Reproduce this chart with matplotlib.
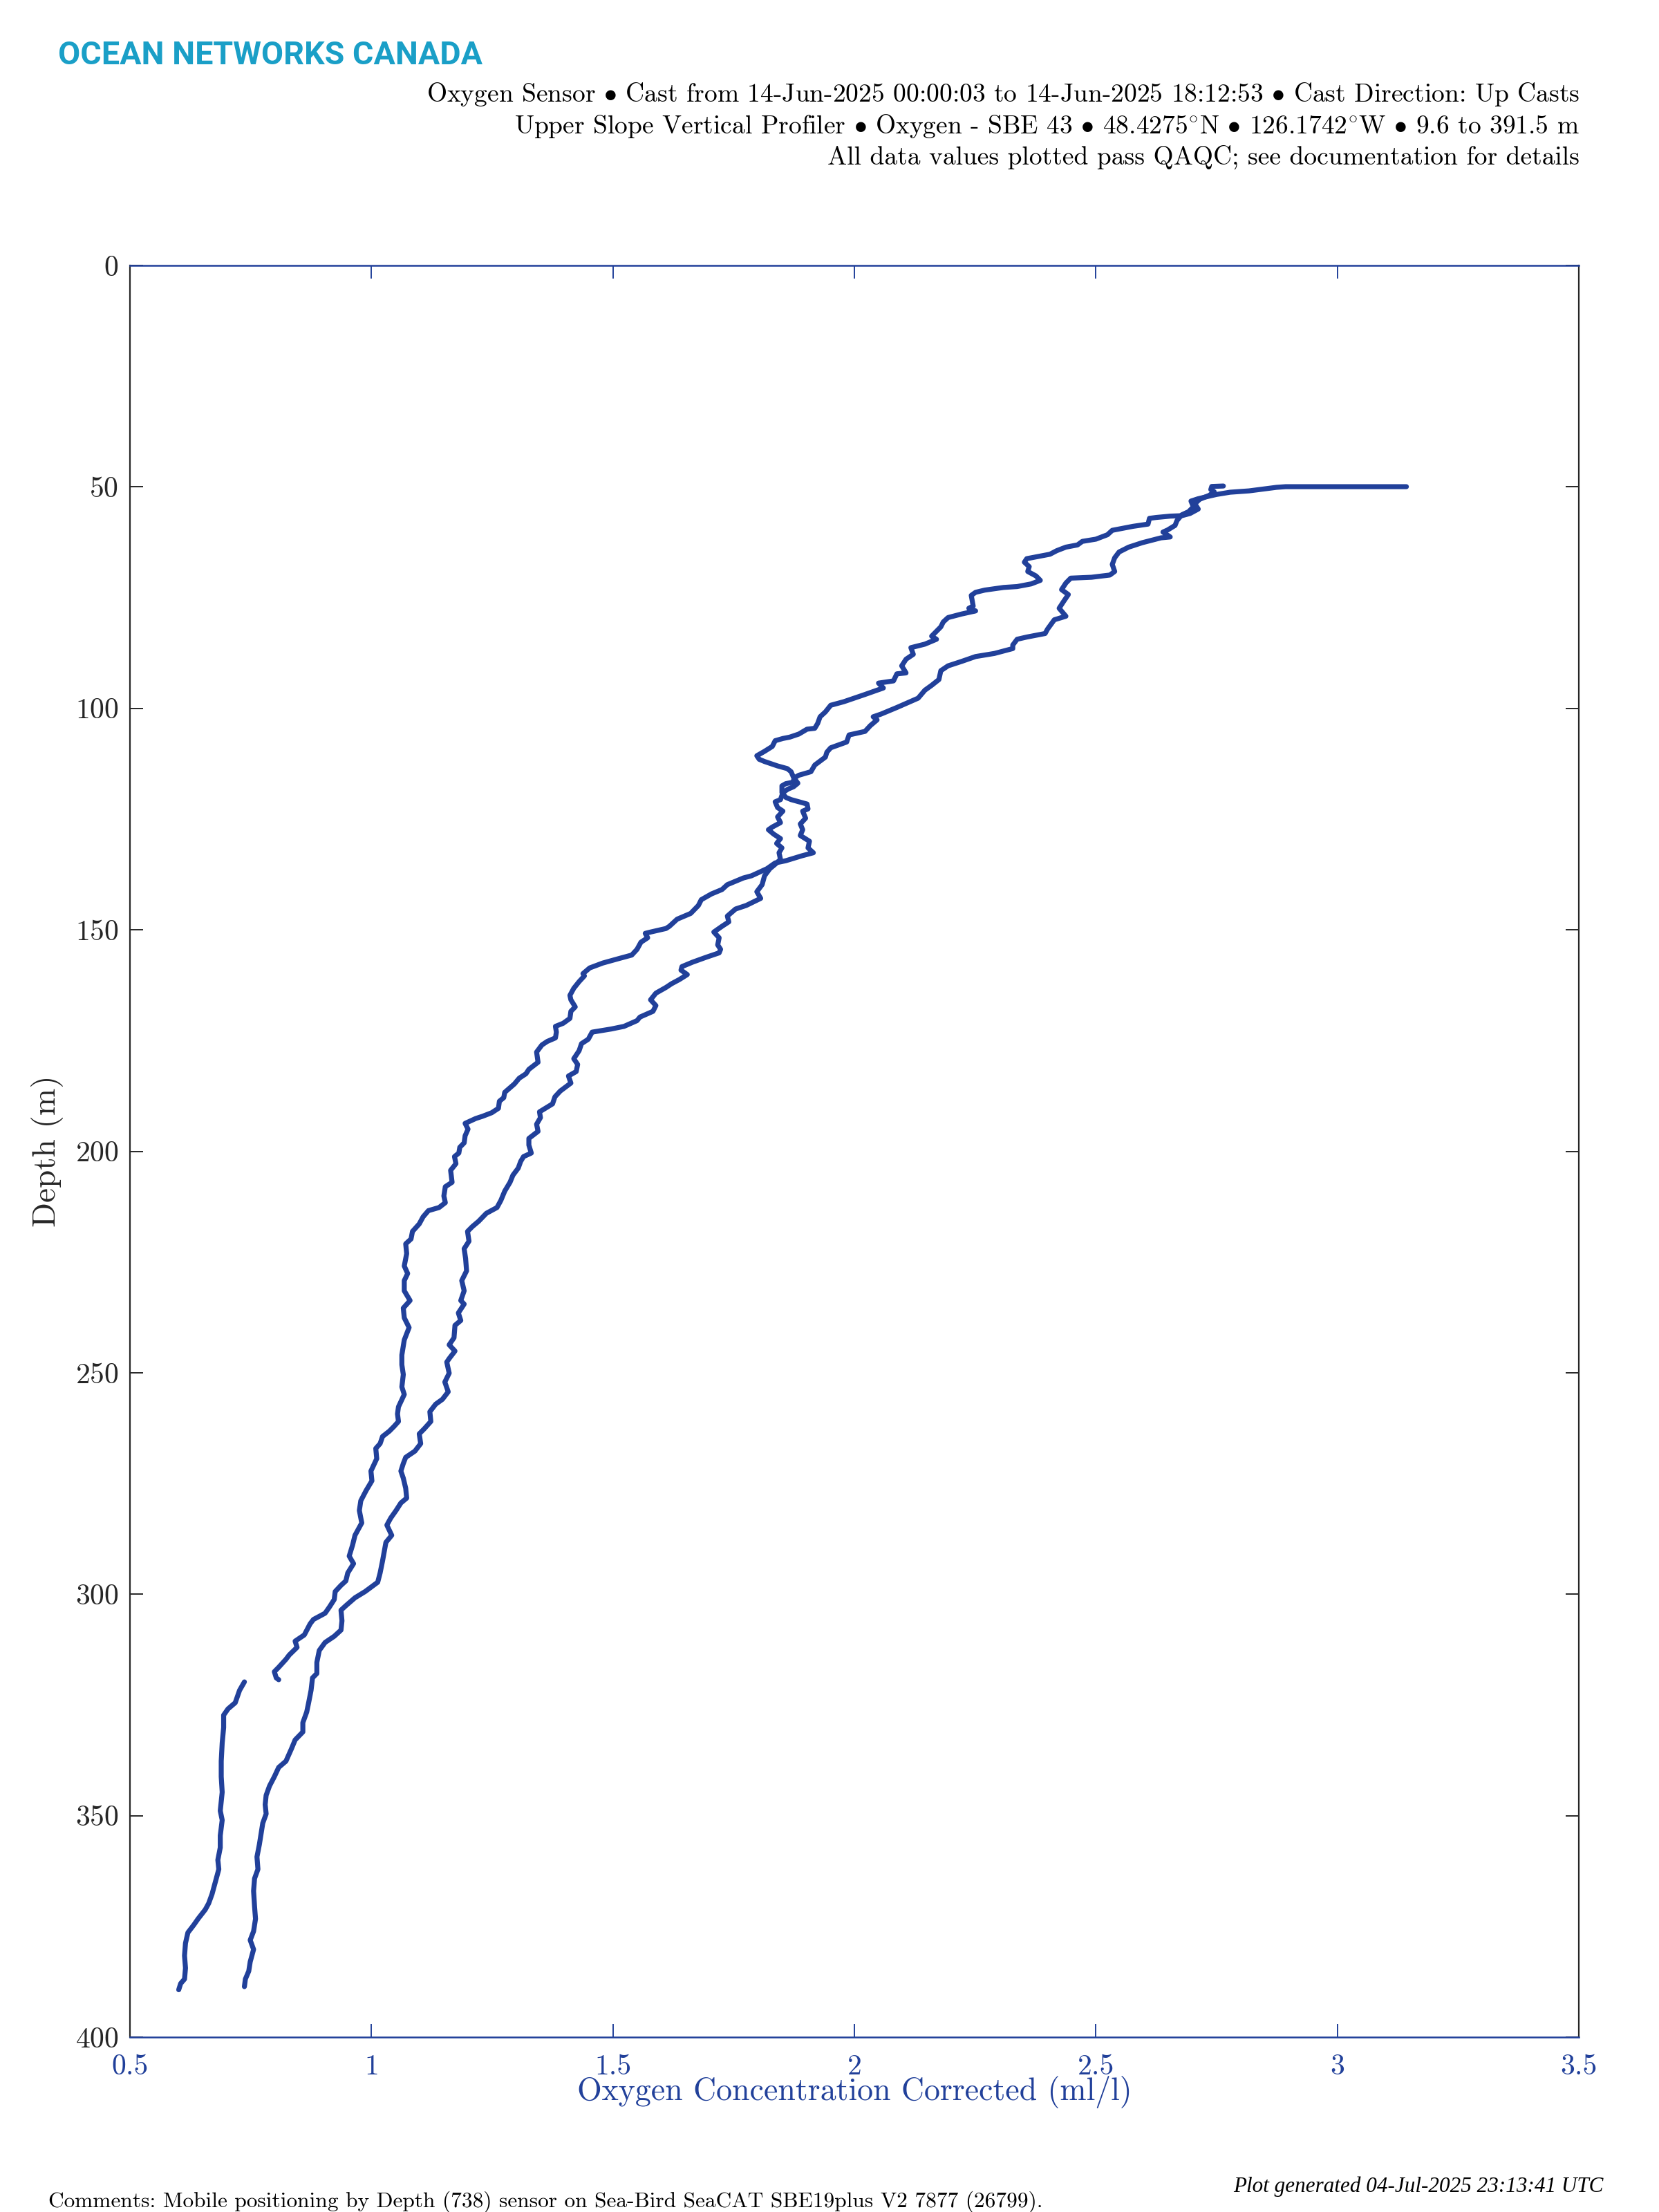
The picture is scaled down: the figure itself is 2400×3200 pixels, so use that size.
import matplotlib.pyplot as plt
from matplotlib.ticker import FormatStrFormatter

plt.rcParams['font.family'] = ['cmr10', 'DejaVu Serif']
plt.rcParams['mathtext.fontset'] = 'cm'
plt.rcParams['axes.formatter.use_mathtext'] = True

nan = float('nan')

# cast with the surface run-out to ~3.14 ml/l (and a short gap near 320 m)
cast1_oxygen = [
    3.143, 3.05, 2.95, 2.893, 2.874, 2.817, 2.778, 2.750, 2.730, 2.711, 2.697, 2.702, 2.692, 2.678,
    2.668, 2.664, 2.649, 2.639, 2.654, 2.635, 2.596, 2.568, 2.548, 2.539, 2.534, 2.539, 2.529, 2.491,
    2.448, 2.438, 2.429, 2.443, 2.433, 2.424, 2.438, 2.414, 2.400, 2.395, 2.357, 2.337, 2.328, 2.328,
    2.290, 2.251, 2.222, 2.194, 2.179, 2.175, 2.160, 2.146, 2.132, 2.088, 2.055, 2.039, 2.047, 2.033,
    2.022, 1.989, 1.984, 1.951, 1.943, 1.940, 1.918, 1.910, 1.885, 1.877, 1.872, 1.858, 1.850, 1.850,
    1.858, 1.869, 1.902, 1.904, 1.893, 1.899, 1.888, 1.893, 1.888, 1.907, 1.904, 1.915, 1.891, 1.858,
    1.836, 1.819, 1.787, 1.770, 1.737, 1.726, 1.704, 1.683, 1.677, 1.661, 1.633, 1.617, 1.610, 1.578,
    1.567, 1.572, 1.558, 1.550, 1.539, 1.512, 1.479, 1.452, 1.438, 1.441, 1.430, 1.419, 1.411, 1.413,
    1.422, 1.413, 1.411, 1.397, 1.381, 1.383, 1.381, 1.364, 1.353, 1.342, 1.345, 1.326, 1.320, 1.306,
    1.296, 1.276, 1.274, 1.265, 1.263, 1.249, 1.230, 1.216, 1.194, 1.200, 1.194, 1.192, 1.183, 1.181,
    1.172, 1.175, 1.164, 1.167, 1.153, 1.150, 1.153, 1.140, 1.118, 1.107, 1.099, 1.085, 1.082, 1.071,
    1.073, 1.068, 1.075, 1.068, 1.068, 1.080, 1.066, 1.068, 1.078, 1.068, 1.063, 1.063, 1.066, 1.063,
    1.068, 1.056, 1.054, 1.056, 1.047, 1.037, 1.023, 1.018, 1.009, 1.011, 0.999, 1.001, 0.989, 0.978,
    0.975, 0.980, 0.966, 0.961, 0.954, 0.963, 0.951, 0.947, 0.937, 0.925, 0.923, 0.913, 0.904, 0.880,
    0.873, 0.861, 0.842, 0.846, 0.830, 0.823, 0.808, 0.799, 0.803, 0.808, nan,
    0.737, 0.727, 0.718, 0.703, 0.694, 0.694, 0.691, 0.689, 0.689, 0.691, 0.687, 0.691, 0.687, 0.687,
    0.682, 0.684, 0.677, 0.670, 0.663, 0.656, 0.641, 0.632, 0.620, 0.615, 0.613, 0.615, 0.613, 0.605,
    0.601,
]
cast1_depth = [
    49.95, 49.95, 49.95, 49.95, 50.1, 50.9, 51.2, 51.7, 52.2, 52.7, 53.2, 54.5, 55.6, 56.3,
    57.6, 58.7, 59.7, 60.2, 61.3, 61.5, 62.6, 63.6, 64.7, 66.0, 67.5, 69.1, 69.9, 70.4,
    70.6, 71.7, 73.2, 74.3, 75.9, 77.4, 79.2, 80.0, 82.1, 83.1, 83.9, 84.4, 85.7, 86.5,
    87.6, 88.3, 89.4, 90.4, 91.5, 93.5, 94.8, 95.9, 97.7, 99.8, 101.3, 101.9, 102.6, 103.9,
    105.2, 106.0, 107.6, 108.9, 109.9, 111.0, 112.8, 114.3, 115.1, 115.6, 116.7, 117.0, 117.5, 119.0,
    120.1, 120.6, 121.6, 122.7, 123.2, 124.8, 126.1, 127.4, 128.7, 130.0, 131.5, 132.6, 133.3, 134.4,
    134.9, 136.2, 137.8, 138.3, 139.8, 140.9, 141.9, 143.2, 144.5, 146.3, 147.6, 149.2, 149.7, 150.5,
    150.8, 151.8, 152.8, 154.4, 155.7, 156.5, 157.5, 158.6, 159.9, 160.4, 161.7, 163.2, 164.8, 165.8,
    167.4, 168.4, 170.0, 171.1, 171.8, 173.1, 174.4, 175.2, 176.0, 177.6, 179.9, 181.5, 182.5, 183.5,
    184.8, 186.7, 187.9, 188.7, 190.3, 191.3, 192.1, 192.6, 193.7, 195.0, 196.5, 198.1, 199.1, 200.4,
    201.2, 202.8, 204.3, 207.0, 208.0, 210.1, 211.6, 212.7, 213.4, 214.8, 216.4, 218.1, 219.8, 220.9,
    223.1, 225.9, 227.6, 229.2, 231.5, 233.7, 235.4, 237.6, 239.8, 242.6, 246.0, 248.2, 250.4, 253.2,
    254.9, 257.7, 259.3, 261.0, 262.1, 263.2, 264.4, 266.0, 267.1, 269.4, 272.2, 274.4, 276.6, 278.9,
    281.1, 283.9, 286.7, 288.9, 291.4, 293.1, 295.2, 297.0, 298.0, 299.4, 301.2, 302.9, 304.3, 305.7,
    306.7, 309.2, 310.6, 312.0, 313.7, 314.7, 316.5, 317.5, 318.9, 319.3, nan,
    319.8, 321.7, 324.5, 325.9, 327.3, 330.1, 333.6, 337.7, 341.2, 344.7, 348.9, 351.0, 354.5, 357.2,
    360.0, 362.1, 364.9, 367.7, 369.8, 371.2, 373.3, 374.7, 376.4, 378.8, 381.6, 384.4, 386.9, 387.9,
    389.3,
]

# second cast, ends near 2.76 ml/l at the top
cast2_oxygen = [
    2.764, 2.740, 2.738, 2.745, 2.735, 2.715, 2.705, 2.712, 2.695, 2.678, 2.654, 2.625, 2.611, 2.608,
    2.577, 2.548, 2.534, 2.524, 2.500, 2.472, 2.462, 2.438, 2.419, 2.405, 2.366, 2.357, 2.352, 2.362,
    2.359, 2.376, 2.385, 2.366, 2.337, 2.309, 2.270, 2.251, 2.242, 2.246, 2.237, 2.251, 2.222, 2.194,
    2.184, 2.179, 2.170, 2.160, 2.170, 2.146, 2.117, 2.122, 2.107, 2.098, 2.107, 2.088, 2.081, 2.050,
    2.060, 2.021, 1.978, 1.951, 1.940, 1.929, 1.924, 1.918, 1.902, 1.885, 1.866, 1.852, 1.836, 1.830,
    1.814, 1.798, 1.803, 1.814, 1.841, 1.861, 1.869, 1.874, 1.883, 1.874, 1.863, 1.852, 1.847, 1.836,
    1.841, 1.852, 1.841, 1.847, 1.830, 1.822, 1.833, 1.847, 1.839, 1.850, 1.844, 1.847, 1.836, 1.825,
    1.814, 1.809, 1.798, 1.806, 1.776, 1.754, 1.737, 1.740, 1.726, 1.709, 1.720, 1.717, 1.723, 1.720,
    1.693, 1.665, 1.643, 1.641, 1.654, 1.638, 1.621, 1.610, 1.589, 1.578, 1.589, 1.583, 1.556, 1.550,
    1.523, 1.496, 1.457, 1.449, 1.435, 1.430, 1.419, 1.427, 1.424, 1.408, 1.413, 1.391, 1.380, 1.375,
    1.348, 1.350, 1.342, 1.345, 1.326, 1.326, 1.331, 1.315, 1.309, 1.304, 1.293, 1.287, 1.276, 1.268,
    1.260, 1.238, 1.222, 1.209, 1.199, 1.202, 1.192, 1.195, 1.197, 1.187, 1.192, 1.185, 1.192, 1.180,
    1.185, 1.173, 1.171, 1.161, 1.173, 1.161, 1.156, 1.161, 1.152, 1.159, 1.147, 1.133, 1.121, 1.123,
    1.109, 1.099, 1.102, 1.090, 1.071, 1.066, 1.061, 1.066, 1.071, 1.073, 1.061, 1.051, 1.040, 1.032,
    1.042, 1.030, 1.023, 1.018, 1.013, 0.987, 0.966, 0.947, 0.937, 0.939, 0.937, 0.923, 0.904, 0.892,
    0.887, 0.887, 0.878, 0.875, 0.870, 0.866, 0.858, 0.858, 0.842, 0.834, 0.823, 0.808, 0.799, 0.789,
    0.782, 0.780, 0.782, 0.775, 0.772, 0.768, 0.763, 0.765, 0.758, 0.756, 0.758, 0.760, 0.756, 0.749,
    0.756, 0.749, 0.746, 0.739, 0.737,
]
cast2_depth = [
    49.8, 49.9, 50.6, 51.1, 51.9, 52.8, 53.8, 55.0, 56.0, 56.5, 56.6, 56.9, 57.1, 58.4,
    58.9, 59.5, 59.8, 60.8, 61.8, 62.3, 63.1, 63.6, 64.4, 65.2, 66.0, 66.2, 67.0, 68.0,
    69.1, 70.1, 71.1, 71.9, 72.5, 72.7, 73.3, 73.8, 74.5, 76.9, 77.4, 78.0, 78.7, 79.5,
    80.5, 81.6, 82.6, 83.7, 84.4, 85.5, 86.3, 87.8, 88.9, 90.4, 92.0, 92.2, 93.8, 94.3,
    95.4, 96.9, 98.5, 99.3, 100.8, 101.9, 103.4, 104.5, 104.7, 105.8, 106.5, 106.8, 107.3, 108.6,
    109.7, 110.7, 111.5, 112.0, 113.0, 113.6, 114.3, 115.6, 116.9, 117.7, 118.2, 119.0, 120.6, 121.1,
    122.4, 123.2, 124.5, 125.8, 126.8, 127.4, 128.4, 129.4, 130.5, 131.5, 132.6, 134.1, 135.2, 136.2,
    137.8, 139.8, 141.4, 142.9, 144.5, 145.3, 146.9, 148.2, 149.2, 150.5, 151.8, 153.4, 154.4, 155.2,
    156.2, 157.3, 158.3, 159.1, 160.1, 161.2, 162.2, 163.0, 164.3, 165.8, 167.1, 168.4, 169.7, 170.5,
    171.8, 172.4, 173.1, 174.7, 175.7, 177.3, 179.1, 180.4, 182.0, 183.0, 184.6, 186.4, 187.7, 189.3,
    191.1, 192.4, 193.9, 195.5, 197.1, 198.6, 200.4, 201.2, 202.3, 203.8, 205.4, 207.0, 209.0, 211.1,
    212.7, 214.0, 215.8, 217.0, 218.1, 220.3, 222.0, 224.2, 227.0, 229.2, 231.5, 233.7, 234.5, 236.5,
    238.2, 239.3, 242.1, 243.7, 245.1, 246.8, 247.6, 250.1, 252.1, 254.3, 256.0, 257.1, 258.8, 261.0,
    262.7, 263.8, 266.0, 267.7, 269.1, 270.5, 272.2, 273.8, 276.1, 278.3, 279.4, 281.1, 282.8, 284.4,
    286.7, 288.3, 292.5, 295.2, 297.3, 299.4, 300.8, 302.6, 303.6, 306.0, 308.1, 309.5, 310.9, 312.7,
    315.4, 317.9, 318.9, 321.7, 324.5, 326.6, 329.0, 331.1, 332.9, 335.0, 337.7, 339.1, 341.2, 343.3,
    345.4, 347.5, 349.6, 351.7, 353.8, 356.5, 359.3, 362.1, 364.2, 367.0, 370.5, 373.3, 376.1, 378.1,
    380.2, 383.0, 385.1, 386.9, 388.6,
]

x_ticks = [0.5, 1, 1.5, 2, 2.5, 3, 3.5]
y_ticks = [0, 50, 100, 150, 200, 250, 300, 350, 400]

bullet = ' $\\bullet$ '
degree = '$^{\\circ}$'
header_lines = [
    'Oxygen Sensor' + bullet + 'Cast from 14-Jun-2025 00:00:03 to 14-Jun-2025 18:12:53'
    + bullet + 'Cast Direction: Up Casts',
    'Upper Slope Vertical Profiler' + bullet + 'Oxygen - SBE 43' + bullet + '48.4275' + degree + 'N'
    + bullet + '126.1742' + degree + 'W' + bullet + '9.6 to 391.5 m',
    'All data values plotted pass QAQC; see documentation for details',
]
comment_text = 'Comments: Mobile positioning by Depth (738) sensor on Sea-Bird SeaCAT SBE19plus V2 7877 (26799).'
generated_text = 'Plot generated 04-Jul-2025 23:13:41 UTC'

blue = '#21409a'
dark = '#262626'

fig = plt.figure(figsize=(12, 16), dpi=200)
ax = fig.add_axes([0.07833, 0.07906, 0.87333, 0.80094])

ax.plot(cast1_oxygen, cast1_depth, color=blue, linewidth=2.6,
        solid_joinstyle='round', solid_capstyle='round')
ax.plot(cast2_oxygen, cast2_depth, color=blue, linewidth=2.6,
        solid_joinstyle='round', solid_capstyle='round')

ax.set_xlim(0.5, 3.5)
ax.set_ylim(400, 0)
ax.set_xticks(x_ticks)
ax.set_yticks(y_ticks)
ax.xaxis.set_major_formatter(FormatStrFormatter('%g'))

ax.tick_params(axis='x', direction='in', length=6.8, width=0.7, colors=blue,
               top=True, labelsize=15, pad=9)
ax.tick_params(axis='y', direction='in', length=6.8, width=0.7, colors=dark,
               right=True, labelsize=15, pad=6)
for side in ['left', 'right']:
    ax.spines[side].set_color(dark)
    ax.spines[side].set_linewidth(0.8)
for side in ['top', 'bottom']:
    ax.spines[side].set_color(blue)
    ax.spines[side].set_linewidth(0.9)

ax.set_xlabel('Oxygen Concentration Corrected (ml/l)', fontsize=16.5, color=blue)
ax.xaxis.set_label_coords(0.5, -0.022)
ax.set_ylabel('Depth (m)', fontsize=17, color=dark)
ax.yaxis.set_label_coords(-0.0458, 0.5)

fig.text(84 / 2400, 1 - 80 / 3200, 'OCEAN NETWORKS CANADA', family='Roboto',
         weight='bold', color='#1a9fc7', fontsize=16.8, va='center')
for i, line in enumerate(header_lines):
    fig.text(2285 / 2400, 1 - (137 + 45 * i) / 3200, line, ha='right', va='center',
             fontsize=13.5, color='black')

fig.text(70 / 2400, 1 - 3185 / 3200, comment_text, fontsize=11.3, va='center', color='black')
fig.text(2320 / 2400, 1 - 3163 / 3200, generated_text, ha='right', va='center',
         family='Liberation Serif', style='italic', fontsize=11.2, color='black')

fig.savefig('out.png', dpi=200)
